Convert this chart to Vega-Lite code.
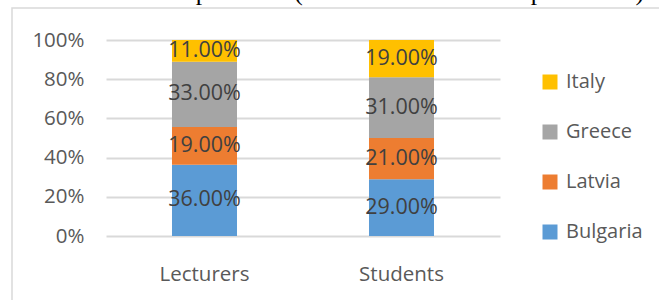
{
  "$schema": "https://vega.github.io/schema/vega-lite/v6.json",
  "autosize": "none",
  "width": 649,
  "height": 294,
  "padding": {"left": 12, "top": 8, "right": 0, "bottom": 0},
  "background": "white",
  "title": {
    "text": "breakdown of respondents (students and lecturers/professors)",
    "font": "Liberation Serif",
    "fontSize": 25.5,
    "fontWeight": "normal",
    "color": "#000000",
    "anchor": "end",
    "frame": "group",
    "baseline": "alphabetic",
    "offset": 0,
    "dy": 17,
    "dx": -17
  },
  "config": {
    "view": {"stroke": "#d9d9d9", "strokeWidth": 1.5},
    "font": "Open Sans"
  },
  "data": {
    "values": [
      {"group": "Lecturers", "country": "Bulgaria", "value": 0.36, "rank": 1},
      {"group": "Lecturers", "country": "Latvia", "value": 0.19, "rank": 2},
      {"group": "Lecturers", "country": "Greece", "value": 0.33, "rank": 3},
      {"group": "Lecturers", "country": "Italy", "value": 0.11, "rank": 4},
      {"group": "Students", "country": "Bulgaria", "value": 0.29, "rank": 1},
      {"group": "Students", "country": "Latvia", "value": 0.21, "rank": 2},
      {"group": "Students", "country": "Greece", "value": 0.31, "rank": 3},
      {"group": "Students", "country": "Italy", "value": 0.19, "rank": 4}
    ]
  },
  "encoding": {
    "x": {
      "field": "group",
      "type": "nominal",
      "sort": ["Lecturers", "Students"],
      "scale": {"range": [94, 488], "paddingInner": 0.67, "paddingOuter": 0.335},
      "axis": {
        "title": null,
        "labelAngle": 0,
        "domain": false,
        "ticks": false,
        "grid": false,
        "labelFont": "Open Sans",
        "labelFontSize": 20.5,
        "labelColor": "#595959",
        "labelBaseline": "top",
        "labelPadding": 0,
        "offset": -38
      }
    },
    "order": {"field": "rank", "type": "quantitative"}
  },
  "layer": [
    {
      "mark": {"type": "bar"},
      "encoding": {
        "y": {
          "field": "value",
          "type": "quantitative",
          "stack": "normalize",
          "scale": {"domain": [0, 1], "range": [228, 32], "nice": false},
          "axis": {
            "title": null,
            "values": [0, 0.2, 0.4, 0.6, 0.8, 1],
            "format": ".0%",
            "domain": false,
            "ticks": false,
            "grid": true,
            "gridColor": "#d9d9d9",
            "gridWidth": 2,
            "labelFont": "Open Sans",
            "labelFontSize": 20.5,
            "labelColor": "#595959",
            "labelPadding": 0,
            "offset": -72
          }
        },
        "color": {
          "field": "country",
          "type": "nominal",
          "scale": {
            "domain": ["Italy", "Greece", "Latvia", "Bulgaria"],
            "range": ["#FFC000", "#A5A5A5", "#ED7D31", "#5B9BD5"]
          },
          "legend": {
            "title": null,
            "orient": "none",
            "legendX": 528,
            "legendY": 64,
            "padding": 0,
            "symbolType": "square",
            "symbolSize": 225,
            "symbolStrokeWidth": 0,
            "symbolOpacity": 1,
            "labelFont": "Open Sans",
            "labelFontSize": 20,
            "labelColor": "#595959",
            "labelOffset": 6,
            "rowPadding": 30
          }
        }
      }
    },
    {
      "mark": {"type": "text", "font": "Open Sans", "fontSize": 21.5, "color": "#404040", "baseline": "middle"},
      "encoding": {
        "y": {
          "field": "value",
          "type": "quantitative",
          "stack": "normalize",
          "bandPosition": 0.5
        },
        "text": {"field": "value", "type": "quantitative", "format": ".2%"}
      }
    }
  ]
}
